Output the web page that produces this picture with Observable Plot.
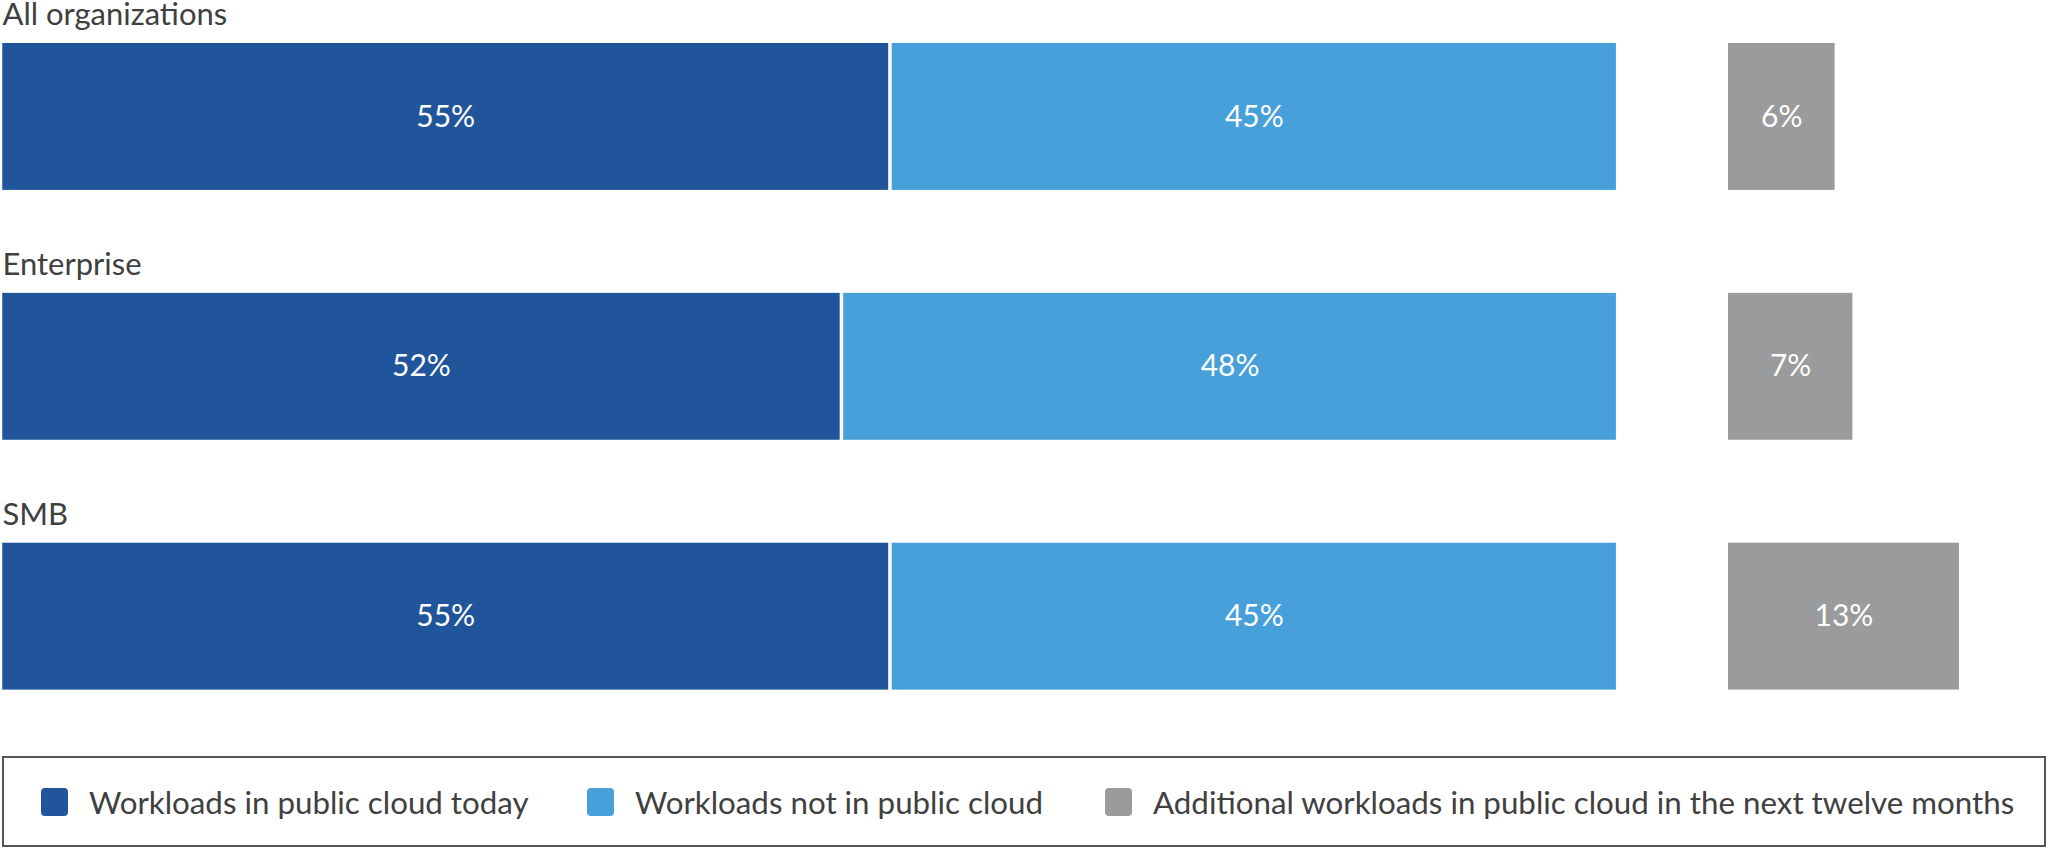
<!DOCTYPE html>
<html>
<head>
<meta charset="utf-8">
<script src="https://cdn.jsdelivr.net/npm/d3@7"></script>
<script src="https://cdn.jsdelivr.net/npm/@observablehq/plot@0.6"></script>
<style>
  html, body { margin: 0; padding: 0; background: #fff; }
  body { width: 2048px; height: 849px; overflow: hidden; font-family: Lato, sans-serif; }
  #charts { display: flex; align-items: flex-start; height: 700px; }
  #gray { margin-left: 109px; }
  #legend {
    position: relative; box-sizing: border-box;
    margin-top: 56px; margin-left: 2px; width: 2044px; height: 91px;
    border: 2px solid #555;
  }
  .item { position: absolute; top: 0; bottom: 0; display: flex; align-items: center; }
  .swatch { width: 27px; height: 28px; border-radius: 4px; margin-right: 21px; }
  .label { font-size: 31.3px; color: #404040; white-space: nowrap; }
</style>
</head>
<body>
<div id="charts"><div id="main"></div><div id="gray"></div></div>
<div id="legend"></div>
<script>
const groups = ["All organizations", "Enterprise", "SMB"];
const today = [55, 52, 55];
const notInCloud = [45, 48, 45];
const additional = [6, 7, 13];
const seriesNames = [
  "Workloads in public cloud today",
  "Workloads not in public cloud",
  "Additional workloads in public cloud in the next twelve months"
];
const colors = ["#21559B", "#47A0DA", "#9A9B9D"];

const stackRows = [];
groups.forEach((g, i) => {
  stackRows.push({group: g, series: seriesNames[0], value: today[i]});
  stackRows.push({group: g, series: seriesNames[1], value: notInCloud[i]});
});
const addRows = groups.map((g, i) => ({group: g, series: seriesNames[2], value: additional[i]}));

const yScale = {domain: groups, range: [42, 690], paddingInner: 0.413, paddingOuter: 0, axis: null};
const colorScale = {domain: seriesNames, range: colors};
const baseStyle = {fontFamily: "Lato, sans-serif", background: "white", overflow: "visible"};

const main = Plot.plot({
  width: 1620, height: 700,
  marginTop: 0, marginBottom: 0, marginLeft: 0, marginRight: 0,
  x: {domain: [0, 100], range: [0.5, 1618.5], axis: null},
  y: yScale,
  color: colorScale,
  style: baseStyle,
  marks: [
    Plot.barX(stackRows, Plot.stackX({x: "value", y: "group", fill: "series", insetLeft: 1.75, insetRight: 1.75})),
    Plot.text(stackRows, Plot.stackX({x: "value", y: "group", z: "series", text: d => d.value + "%", fill: "white", fontSize: 30})),
    Plot.text(groups, {x: 0, y: d => d, text: d => d, textAnchor: "start", lineAnchor: "bottom", dy: -91.5, dx: 1.5, fontSize: 31, fill: "#404040"})
  ]
});
document.getElementById("main").appendChild(main);

const gray = Plot.plot({
  width: 320, height: 700,
  marginTop: 0, marginBottom: 0, marginLeft: 0, marginRight: 0,
  x: {domain: [0, 18], range: [0, 320], axis: null},
  y: yScale,
  color: colorScale,
  style: baseStyle,
  marks: [
    Plot.barX(addRows, Plot.stackX({x: "value", y: "group", fill: "series"})),
    Plot.text(addRows, Plot.stackX({x: "value", y: "group", text: d => d.value + "%", fill: "white", fontSize: 30}))
  ]
});
document.getElementById("gray").appendChild(gray);

const legendLefts = [37, 583, 1101];
const legend = document.getElementById("legend");
seriesNames.forEach((name, i) => {
  const item = document.createElement("div");
  item.className = "item";
  item.style.left = legendLefts[i] + "px";
  const sw = document.createElement("div");
  sw.className = "swatch";
  sw.style.background = colors[i];
  const lb = document.createElement("span");
  lb.className = "label";
  lb.textContent = name;
  item.appendChild(sw);
  item.appendChild(lb);
  legend.appendChild(item);
});
</script>
</body>
</html>
